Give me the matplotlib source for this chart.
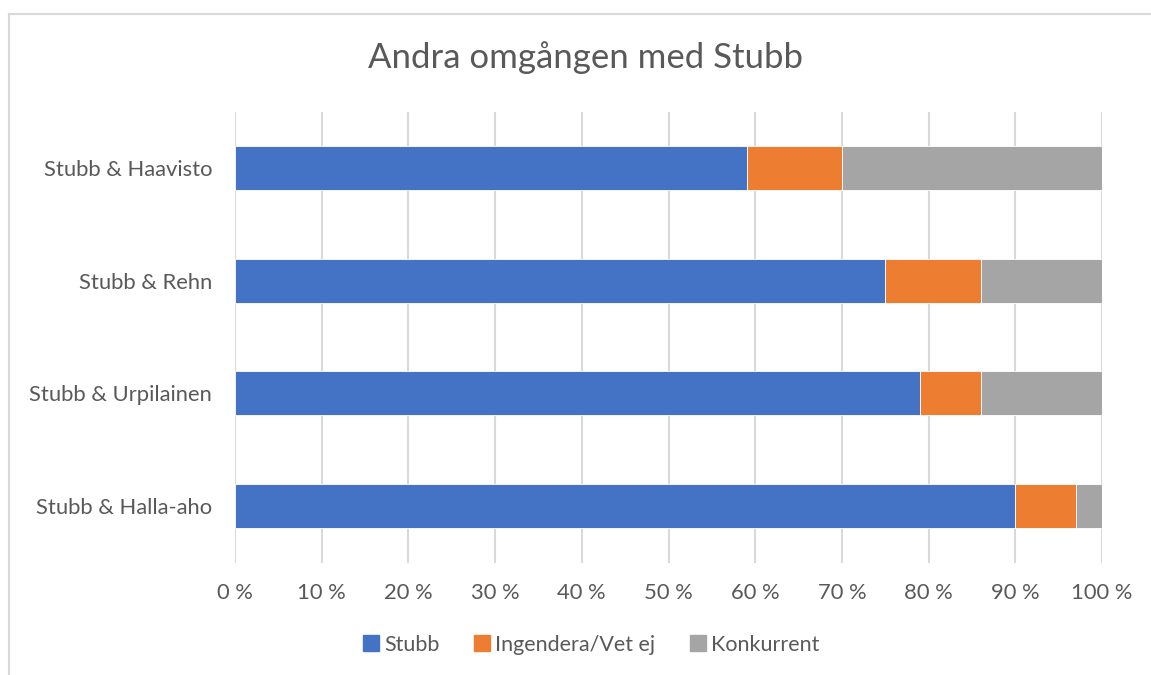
import matplotlib.pyplot as plt
import numpy as np
from matplotlib.lines import Line2D

plt.rcParams["font.family"] = ["Lato", "DejaVu Sans"]

categories = ["Stubb & Haavisto", "Stubb & Rehn", "Stubb & Urpilainen", "Stubb & Halla-aho"]
stubb = [59, 75, 79, 90]
ingen = [11, 11, 7, 7]
konk = [30, 14, 14, 3]
series_names = ["Stubb", "Ingendera/Vet ej", "Konkurrent"]
colors = ["#4472C4", "#ED7D31", "#A5A5A5"]
text_color = "#595959"

fig = plt.figure(figsize=(11.51, 6.75), dpi=100)
ax = fig.add_axes([235 / 1151, 1 - 562.5 / 675, (1102 - 235) / 1151, (562.5 - 111.5) / 675])

y = np.arange(len(categories))
left = np.zeros(len(categories))
for vals, name, col in zip([stubb, ingen, konk], series_names, colors):
    ax.barh(y, vals, left=left, height=0.39, color=col, label=name,
            edgecolor="white", linewidth=0.6, zorder=3)
    left += np.array(vals)

ax.set_xlim(0, 100)
ax.set_ylim(len(categories) - 0.5, -0.5)
ax.set_yticks(y)
ax.set_yticklabels(categories, fontsize=15.8, color=text_color)
ax.set_xticks(np.arange(0, 101, 10))
ax.set_xticklabels([f"{v} %" for v in range(0, 101, 10)], fontsize=15.8, color=text_color)
ax.tick_params(length=0)
ax.tick_params(axis="y", pad=16.5)
ax.tick_params(axis="x", pad=15)
ax.grid(axis="x", color="#D9D9D9", linewidth=1.5, zorder=0)
for s in ax.spines.values():
    s.set_visible(False)

fig.text(585 / 1151, 1 - 58 / 675, "Andra omgången med Stubb", fontsize=25,
         color=text_color, ha="center", va="center")

handles = [Line2D([], [], marker="s", linestyle="none", markersize=11,
                  markerfacecolor=c, markeredgecolor=c) for c in colors]
fig.legend(handles, series_names, loc="center", bbox_to_anchor=(590 / 1151, 1 - 645 / 675),
           ncol=3, frameon=False, fontsize=15.5, labelcolor=text_color,
           handletextpad=0.1, columnspacing=1.5, handlelength=1.0)

# chart frame (left and top edges visible)
fig.add_artist(Line2D([9 / 1151, 9 / 1151], [0, 1 - 13.5 / 675], color="#D9D9D9", linewidth=1.5))
fig.add_artist(Line2D([9 / 1151, 1], [1 - 13.5 / 675, 1 - 13.5 / 675], color="#D9D9D9", linewidth=1.5))

fig.savefig("out.png", dpi=100)
